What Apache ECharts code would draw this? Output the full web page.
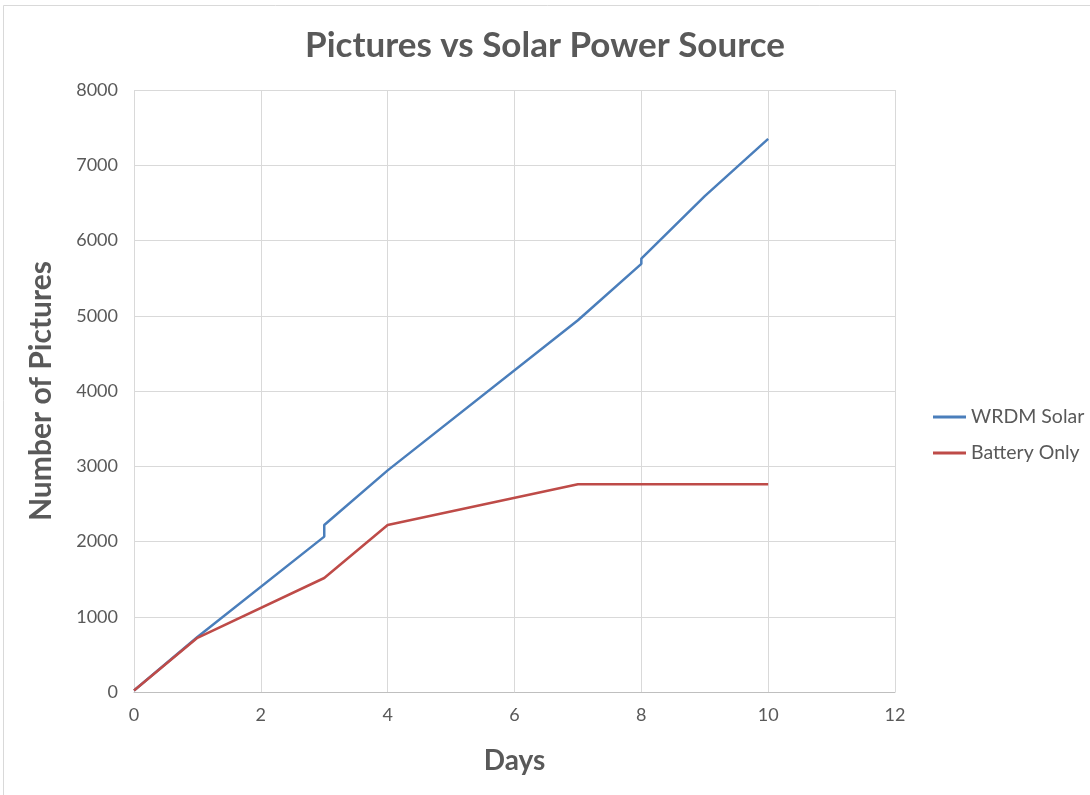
<!DOCTYPE html>
<html><head><meta charset="utf-8">
<script src="https://cdn.jsdelivr.net/npm/echarts@6/dist/echarts.min.js"></script>
<style>html,body{margin:0;padding:0;background:#fff}#c{width:1090px;height:795px}</style>
</head><body><div id="c"></div>
<script>
const title = 'Pictures vs Solar Power Source';
const xName = 'Days';
const yName = 'Number of Pictures';
const seriesNames = ['WRDM Solar', 'Battery Only'];
const solarDays = [0, 1, 3, 3, 4, 7, 8, 8, 9, 10];
const solarPictures = [20, 730, 2065, 2220, 2945, 4940, 5690, 5760, 6590, 7350];
const batteryDays = [0, 1, 3, 4, 7, 8, 9, 10];
const batteryPictures = [20, 720, 1515, 2220, 2762, 2762, 2762, 2762];
const colors = ['#4A7EBB', '#BE4B48'];

const font = 'Lato, "Open Sans", sans-serif';
const chart = echarts.init(document.getElementById('c'));
chart.setOption({
  backgroundColor: '#fff',
  animation: false,
  title: { text: title, left: 'center', top: 23, textStyle: { fontFamily: font, fontSize: 35, fontWeight: 'bold', color: '#595959' } },
  color: colors,
  legend: {
    orient: 'vertical', left: 928, top: 402, itemGap: 16, itemWidth: 33, itemHeight: 3,
    icon: 'rect',
    textStyle: { fontFamily: font, fontSize: 19.5, color: '#595959' },
    data: seriesNames
  },
  grid: { left: 134, right: 195, top: 90, bottom: 103 },
  xAxis: {
    type: 'value', min: 0, max: 12, interval: 2,
    name: xName, nameLocation: 'middle', nameGap: 55,
    nameTextStyle: { fontFamily: font, fontSize: 28, fontWeight: 'bold', color: '#595959' },
    axisLine: { show: true, lineStyle: { color: '#bfbfbf', width: 1 } },
    axisTick: { show: false },
    axisLabel: { fontFamily: font, fontSize: 18, color: '#595959', margin: 14 },
    splitLine: { show: true, lineStyle: { color: '#d9d9d9', width: 1 } }
  },
  yAxis: {
    type: 'value', min: 0, max: 8000, interval: 1000,
    name: yName, nameLocation: 'middle', nameGap: 78,
    nameTextStyle: { fontFamily: font, fontSize: 30, fontWeight: 'bold', color: '#595959' },
    axisLine: { show: false },
    axisTick: { show: false },
    axisLabel: { fontFamily: font, fontSize: 18, color: '#595959', margin: 16, formatter: v => String(v) },
    splitLine: { show: true, lineStyle: { color: '#d9d9d9', width: 1 } }
  },
  graphic: [{ type: 'rect', shape: { x: 3.5, y: 5.5, width: 1200, height: 1000 }, style: { fill: 'none', stroke: '#d9d9d9', lineWidth: 1 }, silent: true }],
  series: [
    { name: seriesNames[0], type: 'line', showSymbol: false, symbol: 'none', lineStyle: { width: 2.5, color: colors[0] },
      data: solarDays.map((d, i) => [d, solarPictures[i]]) },
    { name: seriesNames[1], type: 'line', showSymbol: false, symbol: 'none', lineStyle: { width: 2.5, color: colors[1] },
      data: batteryDays.map((d, i) => [d, batteryPictures[i]]) }
  ]
});
</script></body></html>
